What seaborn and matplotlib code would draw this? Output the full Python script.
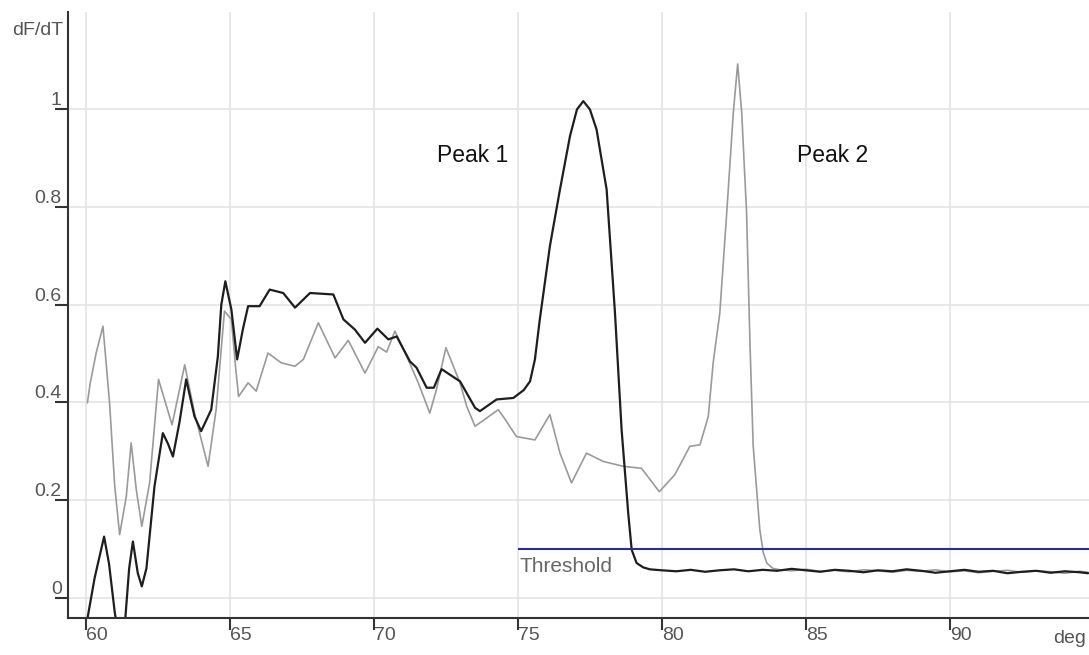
import matplotlib
matplotlib.use("Agg")
import matplotlib.pyplot as plt
import pandas as pd
import seaborn as sns

# %%
# melt curve values (temperature in deg, dF/dT)
black_temp = [60.00, 60.30, 60.63, 60.80, 61.00, 61.20, 61.37, 61.50, 61.63, 61.80,
              61.94, 62.10, 62.38, 62.67, 62.85, 63.02, 63.25, 63.48, 63.77, 64.00,
              64.35, 64.58, 64.70, 64.84, 65.05, 65.25, 65.45, 65.63, 66.03, 66.38,
              66.85, 67.26, 67.78, 68.59, 68.94, 69.34, 69.69, 70.12, 70.50, 70.79,
              71.25, 71.48, 71.83, 72.08, 72.35, 72.99, 73.51, 73.68, 74.26, 74.84,
              75.20, 75.42, 75.59, 75.76, 76.11, 76.46, 76.81, 77.05, 77.27, 77.50,
              77.73, 78.08, 78.37, 78.60, 78.83, 78.95, 79.12, 79.35, 79.58,
              80.0, 80.5, 81.0, 81.5, 82.0, 82.5, 83.0, 83.5, 84.0, 84.5,
              85.0, 85.5, 86.0, 86.5, 87.0, 87.5, 88.0, 88.5, 89.0, 89.5,
              90.0, 90.5, 91.0, 91.5, 92.0, 92.5, 93.0, 93.5, 94.0, 94.5, 94.8]
black_dfdt = [-0.06, 0.04, 0.125, 0.07, -0.03, -0.10, -0.04, 0.06, 0.115, 0.05,
              0.023, 0.06, 0.228, 0.337, 0.315, 0.289, 0.36, 0.447, 0.371, 0.341,
              0.385, 0.494, 0.60, 0.648, 0.59, 0.488, 0.55, 0.597, 0.597, 0.631,
              0.624, 0.594, 0.624, 0.621, 0.570, 0.549, 0.522, 0.551, 0.529, 0.535,
              0.484, 0.471, 0.43, 0.43, 0.468, 0.443, 0.389, 0.382, 0.406, 0.409,
              0.425, 0.443, 0.488, 0.57, 0.72, 0.836, 0.946, 1.00, 1.017, 1.00,
              0.959, 0.836, 0.583, 0.344, 0.173, 0.098, 0.071, 0.062, 0.058,
              0.056, 0.054, 0.057, 0.053, 0.056, 0.058, 0.054, 0.057, 0.055, 0.059,
              0.056, 0.053, 0.057, 0.055, 0.052, 0.056, 0.054, 0.058, 0.055, 0.051,
              0.054, 0.057, 0.053, 0.055, 0.050, 0.053, 0.055, 0.051, 0.054, 0.052, 0.050]

gray_temp = [60.05, 60.15, 60.35, 60.59, 60.82, 61.00, 61.17, 61.40, 61.57, 61.75,
             61.94, 62.21, 62.52, 62.99, 63.43, 63.77, 64.24, 64.52, 64.81, 65.05,
             65.20, 65.30, 65.63, 65.91, 66.32, 66.78, 67.26, 67.55, 68.07, 68.65,
             69.11, 69.69, 70.15, 70.44, 70.73, 71.14, 71.54, 71.94, 72.17, 72.50,
             72.99, 73.22, 73.51, 74.32, 74.50, 74.95, 75.59, 76.11, 76.46, 76.86,
             77.38, 77.96, 78.66, 79.29, 79.91, 80.45, 80.97, 81.32, 81.61, 81.78,
             82.01, 82.25, 82.48, 82.63, 82.77, 82.94, 83.06, 83.17, 83.40, 83.52,
             83.64, 83.85, 84.10,
             84.5, 85.0, 85.5, 86.0, 86.5, 87.0, 87.5, 88.0, 88.5, 89.0, 89.5,
             90.0, 90.5, 91.0, 91.5, 92.0, 92.5, 93.0, 93.5, 94.0, 94.5, 94.8]
gray_dfdt = [0.399, 0.44, 0.50, 0.556, 0.399, 0.228, 0.129, 0.207, 0.317, 0.22,
             0.146, 0.235, 0.447, 0.354, 0.477, 0.378, 0.269, 0.385, 0.587, 0.57,
             0.47, 0.412, 0.44, 0.423, 0.501, 0.481, 0.474, 0.488, 0.563, 0.491,
             0.527, 0.46, 0.514, 0.503, 0.546, 0.494, 0.44, 0.378, 0.426, 0.512,
             0.44, 0.392, 0.351, 0.385, 0.37, 0.33, 0.323, 0.375, 0.296, 0.235,
             0.296, 0.279, 0.269, 0.265, 0.217, 0.252, 0.31, 0.313, 0.371, 0.481,
             0.583, 0.788, 0.994, 1.093, 0.994, 0.788, 0.515, 0.31, 0.139, 0.092,
             0.071, 0.060, 0.057,
             0.055, 0.058, 0.054, 0.056, 0.053, 0.057, 0.055, 0.052, 0.056, 0.054, 0.057,
             0.053, 0.055, 0.051, 0.054, 0.056, 0.052, 0.055, 0.053, 0.050, 0.054, 0.052]

threshold = 0.1
threshold_start = 75
x_ticks = [60, 65, 70, 75, 80, 85, 90]
x_tick_labels = ["60", "65", "70", "75", "80", "85", "90"]
y_ticks = [0, 0.2, 0.4, 0.6, 0.8, 1]
y_tick_labels = ["0", "0.2", "0.4", "0.6", "0.8", "1"]
peak_labels = [("Peak 1", 72.19), ("Peak 2", 84.68)]

# %%
sns.set_theme(style="white")
plt.rcParams["font.family"] = ["Liberation Sans", "DejaVu Sans"]

fig = plt.figure(figsize=(10.89, 6.55), dpi=100)
ax = fig.add_axes([0.0624, 0.057, 0.9376, 0.925])

ax.set_xticks(x_ticks)
ax.set_yticks(y_ticks)
ax.grid(True, color="#e4e4e4", lw=1.2)
ax.set_axisbelow(True)

df_black = pd.DataFrame({"temp": black_temp, "dfdt": black_dfdt})
df_gray = pd.DataFrame({"temp": gray_temp, "dfdt": gray_dfdt})
sns.lineplot(data=df_gray, x="temp", y="dfdt", color="#9a9a9a", lw=1.2, ax=ax)
sns.lineplot(data=df_black, x="temp", y="dfdt", color="#1e1e1e", lw=1.6, ax=ax)

ax.hlines(threshold, threshold_start, 96, color="#2b2b9c", lw=1.5)
ax.text(threshold_start + 0.05, 0.053, "Threshold", color="#666666",
        fontsize=15, va="baseline", ha="left")
for txt, xpos in peak_labels:
    ax.text(xpos, 0.892, txt, color="#111111", fontsize=16.5, va="baseline", ha="left")

ax.set_xlim(59.375, 94.83)
ax.set_ylim(-0.041, 1.2)
ax.set_xlabel("")
ax.set_ylabel("")

sns.despine(ax=ax)
for side in ["left", "bottom"]:
    ax.spines[side].set_color("#333333")
    ax.spines[side].set_linewidth(1.5)

ax.set_xticklabels(x_tick_labels)
ax.set_yticklabels(y_tick_labels)
ax.tick_params(axis="y", direction="out", length=9.5, width=1.5, color="#333333",
               pad=-5, labelsize=14, labelcolor="#555555", left=True)
ax.tick_params(axis="x", direction="out", length=8.5, width=1.5, color="#333333",
               pad=-2, labelsize=14, labelcolor="#555555", bottom=True)
for lab in ax.get_yticklabels():
    lab.set_verticalalignment("bottom")
for lab in ax.get_xticklabels():
    lab.set_horizontalalignment("left")

fig.text(0.0579, 0.9466, "dF/dT", ha="right", va="baseline", fontsize=14, color="#555555")
fig.text(0.967, 0.0183, "deg", ha="left", va="baseline", fontsize=14, color="#555555")

plt.savefig("out.png", dpi=100)
